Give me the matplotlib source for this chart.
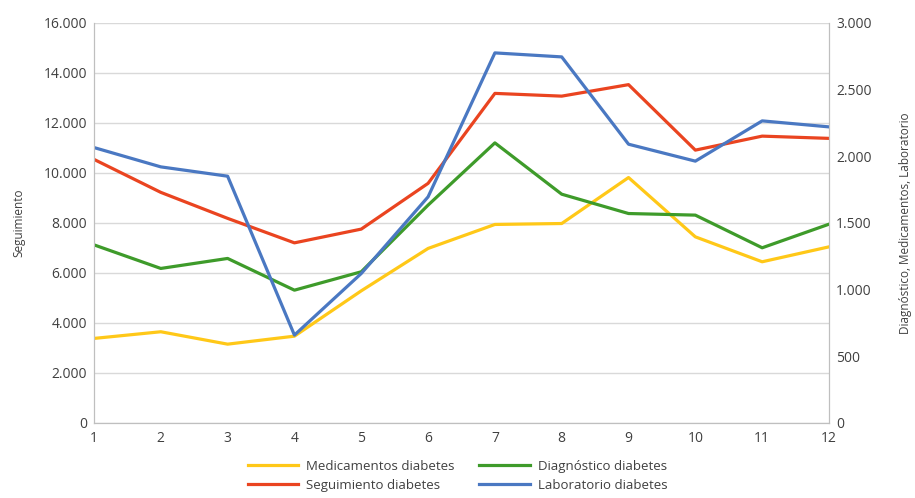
import matplotlib.pyplot as plt
from matplotlib.ticker import FuncFormatter, MultipleLocator

plt.rcParams['font.family'] = ['Open Sans', 'DejaVu Sans']

meses = [1, 2, 3, 4, 5, 6, 7, 8, 9, 10, 11, 12]

# eje izquierdo
seguimiento = [10540, 9220, 8180, 7200, 7750, 9580, 13180, 13070, 13530, 10910, 11470, 11380]

# eje derecho
medicamentos = [633, 683, 590, 650, 990, 1308, 1488, 1495, 1840, 1395, 1208, 1320]
diagnostico = [1335, 1158, 1233, 995, 1133, 1633, 2100, 1715, 1570, 1558, 1313, 1490]
laboratorio = [2065, 1920, 1850, 658, 1120, 1695, 2775, 2745, 2090, 1963, 2265, 2220]

c_med = '#FFC818'
c_diag = '#3E9B2A'
c_seg = '#EA4420'
c_lab = '#4A78C2'
lw = 2.3


def miles(v, pos):
    return '{:,.0f}'.format(v).replace(',', '.')


fig = plt.figure(figsize=(9.15, 4.98), dpi=100)
ax = fig.add_axes([0.1027, 0.151, 0.8033, 0.803])
ax2 = ax.twinx()

l_seg, = ax.plot(meses, seguimiento, color=c_seg, lw=lw, label='Seguimiento diabetes')
l_med, = ax2.plot(meses, medicamentos, color=c_med, lw=lw, label='Medicamentos diabetes')
l_diag, = ax2.plot(meses, diagnostico, color=c_diag, lw=lw, label='Diagnóstico diabetes')
l_lab, = ax2.plot(meses, laboratorio, color=c_lab, lw=lw, label='Laboratorio diabetes')

ax.set_xlim(1, 12)
ax.set_ylim(0, 16000)
ax2.set_ylim(0, 3000)
ax.set_xticks(meses)
ax.yaxis.set_major_locator(MultipleLocator(2000))
ax2.yaxis.set_major_locator(MultipleLocator(500))
ax.yaxis.set_major_formatter(FuncFormatter(miles))
ax2.yaxis.set_major_formatter(FuncFormatter(miles))

ax.grid(axis='y', color='#d9d9d9', lw=1)
ax.set_axisbelow(True)
for a in (ax, ax2):
    a.spines['top'].set_visible(False)
    for s in ('left', 'right', 'bottom'):
        a.spines[s].set_color('#bfbfbf')
    a.tick_params(length=0, labelsize=10, colors='#404040')
ax.tick_params(axis='y', pad=5)
ax2.tick_params(axis='y', pad=5)
ax.tick_params(axis='x', pad=6)

ax.set_ylabel('Seguimiento', fontsize=8.5, color='#404040', labelpad=13)
ax2.set_ylabel('Diagnóstico, Medicamentos, Laboratorio', fontsize=8.5,
               color='#404040', labelpad=20)

# columnas: (Medicamentos, Seguimiento) y (Diagnóstico, Laboratorio)
fig.legend(handles=[l_med, l_seg, l_diag, l_lab], ncol=2, loc='lower center',
           bbox_to_anchor=(0.5, -0.012), frameon=False, fontsize=9.5,
           handlelength=3.8, columnspacing=1.9, handletextpad=0.6,
           labelspacing=0.5, labelcolor='#404040')

fig.savefig('out.png', dpi=100)
